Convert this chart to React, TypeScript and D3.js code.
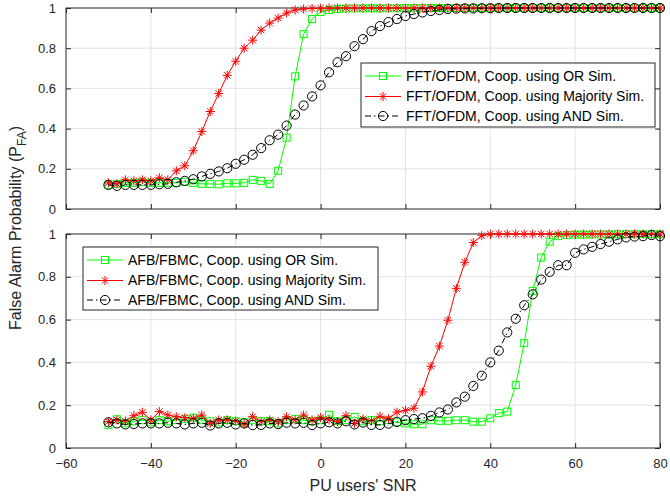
import React, { useEffect, useRef } from 'react';
import * as d3 from 'd3';

// SNR sweep, -50:2:80 dB
const snr = d3.range(-50, 81, 2);

const xTicks = [-60, -40, -20, 0, 20, 40, 60, 80];
const yTicks = [0, 0.2, 0.4, 0.6, 0.8, 1];

// upper panel: FFT/OFDM
const ofdmOr = [
  0.12, 0.125, 0.13, 0.13, 0.135, 0.13, 0.13, 0.13, 0.13, 0.135, 0.13, 0.125, 0.125,
  0.123, 0.128, 0.128, 0.13, 0.145, 0.14, 0.125, 0.19, 0.355, 0.66, 0.87, 0.945, 0.98, 0.99, 0.995,
  0.997, 0.998, 0.998, 0.999, 0.998, 0.999, 0.999, 1, 0.999, 1, 1, 1, 0.999, 1, 1, 1, 1, 1, 1,
  1, 1, 1, 1, 1, 1, 1, 1, 1, 1, 1, 1, 1, 1, 1, 1, 1, 1, 1,
];
const ofdmMaj = [
  0.13, 0.125, 0.145, 0.14, 0.145, 0.14, 0.155, 0.145, 0.19, 0.215, 0.29, 0.385, 0.485,
  0.575, 0.665, 0.735, 0.8, 0.84, 0.89, 0.925, 0.95, 0.975, 0.99, 0.995,
  0.998, 0.999, 0.999, 1, 1, 1, 1, 1, 1, 1, 1, 1, 1, 1, 1, 1, 1, 1, 1, 1, 1,
  1, 1, 1, 1, 1, 1, 1, 1, 1, 1, 1, 1, 1, 1, 1, 1, 1, 1, 1, 1, 1,
];
const ofdmAnd = [
  0.12, 0.115, 0.12, 0.12, 0.12, 0.12, 0.123, 0.125, 0.133, 0.14, 0.148, 0.162, 0.175,
  0.187, 0.203, 0.225, 0.245, 0.27, 0.303, 0.342, 0.37, 0.415, 0.47, 0.515, 0.56, 0.615,
  0.68, 0.73, 0.76, 0.81, 0.845, 0.885, 0.91, 0.93, 0.945, 0.96, 0.97, 0.978, 0.985, 0.99, 0.995,
  0.997, 0.998, 0.998, 0.999, 0.999, 1, 1, 1, 1, 1, 1, 1, 1, 1, 1, 1, 1, 1, 1, 1, 1, 1, 1, 1, 1,
];

// lower panel: AFB/FBMC
const fbmcOr = [
  0.107, 0.134, 0.115, 0.125, 0.13, 0.12, 0.13, 0.125, 0.13, 0.135,
  0.142, 0.13, 0.125, 0.12, 0.13, 0.125, 0.12, 0.13, 0.125, 0.125,
  0.115, 0.13, 0.135, 0.13, 0.125, 0.13, 0.155, 0.125, 0.13, 0.145,
  0.125, 0.13, 0.125, 0.13, 0.12, 0.115, 0.111, 0.111, 0.13, 0.127,
  0.127, 0.13, 0.13, 0.123, 0.123, 0.139, 0.163, 0.17, 0.294, 0.49,
  0.734, 0.89, 0.964, 0.99,
  0.995, 0.997, 0.997, 0.998, 0.998, 0.998, 0.999, 0.999, 0.999, 0.999, 0.999, 0.999,
];
const fbmcMaj = [
  0.123, 0.131, 0.126, 0.151, 0.167, 0.131, 0.17, 0.154, 0.146, 0.142,
  0.139, 0.154, 0.115, 0.131, 0.131, 0.126, 0.111, 0.146, 0.123, 0.131,
  0.123, 0.146, 0.131, 0.154, 0.131, 0.142, 0.131, 0.123, 0.151, 0.115,
  0.136, 0.127, 0.148, 0.137, 0.168, 0.176, 0.186, 0.262, 0.382, 0.476,
  0.597, 0.746, 0.868, 0.96, 0.992,
  1, 1, 1, 1, 1, 1, 1, 1, 1, 1, 1, 1, 1, 1, 1, 1, 1, 1, 1, 1, 1,
];
const fbmcAnd = [
  0.12, 0.115, 0.11, 0.112, 0.115, 0.115, 0.115, 0.118, 0.115, 0.11,
  0.115, 0.118, 0.105, 0.115, 0.118, 0.11, 0.115, 0.107, 0.108, 0.115,
  0.112, 0.118, 0.115, 0.118, 0.107, 0.115, 0.12, 0.115, 0.125, 0.11,
  0.119, 0.108, 0.108, 0.114, 0.122, 0.13, 0.135, 0.139, 0.15, 0.166,
  0.18, 0.213, 0.24, 0.29, 0.338, 0.4, 0.455, 0.54, 0.604, 0.667,
  0.718, 0.787, 0.823, 0.854, 0.854, 0.912, 0.928, 0.94, 0.953, 0.964,
  0.975, 0.984, 0.988, 0.99, 0.995, 0.99,
];

const ofdmLabels = [
  'FFT/OFDM, Coop. using OR Sim.',
  'FFT/OFDM, Coop. using Majority Sim.',
  'FFT/OFDM, Coop. using AND Sim.',
];
const fbmcLabels = [
  'AFB/FBMC, Coop. using OR Sim.',
  'AFB/FBMC, Coop. using Majority Sim.',
  'AFB/FBMC, Coop. using AND Sim.',
];

const FONT = '"Liberation Sans", Arial, Helvetica, sans-serif';
const AXIS = '#262626';
const GRID = '#e3e3e3';

const styles = [
  { color: '#00ff00', marker: 'square', dash: null },
  { color: '#ff0000', marker: 'star', dash: null },
  { color: '#000000', marker: 'circle', dash: '6,3,1.5,3' },
];

const starPath = 'M-4.5,0H4.5M0,-4.5V4.5M-3.2,-3.2L3.2,3.2M-3.2,3.2L3.2,-3.2';

const drawMarker = (sel, kind, color) => {
  if (kind === 'square') {
    sel.append('rect').attr('x', -3.5).attr('y', -3.5).attr('width', 7).attr('height', 7)
      .attr('fill', 'none').attr('stroke', color).attr('stroke-width', 1);
  } else if (kind === 'circle') {
    sel.append('circle').attr('r', 4.6).attr('fill', 'none').attr('stroke', color).attr('stroke-width', 1);
  } else {
    sel.append('path').attr('d', starPath).attr('fill', 'none').attr('stroke', color).attr('stroke-width', 1);
  }
};

const App = () => {
  const svgRef = useRef(null);

  useEffect(() => {
    const svg = d3.select(svgRef.current);
    svg.selectAll('*').remove();

    const xScale = d3.scaleLinear().domain([-60, 80]).range([66, 660]);

    const panels = [
      {
        yScale: d3.scaleLinear().domain([0, 1]).range([209, 8]),
        series: [ofdmOr, ofdmMaj, ofdmAnd],
        labels: ofdmLabels,
        legend: { x: 361, y: 63, w: 294, h: 64 },
        xLabels: false,
      },
      {
        yScale: d3.scaleLinear().domain([0, 1]).range([448, 234]),
        series: [fbmcOr, fbmcMaj, fbmcAnd],
        labels: fbmcLabels,
        legend: { x: 83, y: 247, w: 295, h: 63 },
        xLabels: true,
      },
    ];

    panels.forEach((p) => {
      const { yScale } = p;
      const [x0, x1] = xScale.range();
      const [yb, yt] = yScale.range();
      const g = svg.append('g');

      // 격자
      g.selectAll('.vg').data(xTicks.slice(1, -1)).enter().append('line')
        .attr('x1', d => xScale(d)).attr('x2', d => xScale(d))
        .attr('y1', yt).attr('y2', yb).attr('stroke', GRID);
      g.selectAll('.hg').data(yTicks.slice(1, -1)).enter().append('line')
        .attr('x1', x0).attr('x2', x1)
        .attr('y1', d => yScale(d)).attr('y2', d => yScale(d)).attr('stroke', GRID);

      // 축 (ticks inward on all four sides)
      g.append('g').attr('transform', `translate(0,${yb})`)
        .call(d3.axisBottom(xScale).tickValues(xTicks).tickSize(-5)
          .tickFormat(p.xLabels ? d3.format('d') : () => '').tickPadding(11))
        .call(a => a.select('.domain').remove());
      g.append('g').attr('transform', `translate(0,${yt})`)
        .call(d3.axisTop(xScale).tickValues(xTicks).tickSize(-5).tickFormat(() => ''))
        .call(a => a.select('.domain').remove());
      g.append('g').attr('transform', `translate(${x0},0)`)
        .call(d3.axisLeft(yScale).tickValues(yTicks).tickSize(-5)
          .tickFormat(d => (d === 0 || d === 1 ? String(d) : d3.format('.1f')(d))).tickPadding(10))
        .call(a => a.select('.domain').remove());
      g.append('g').attr('transform', `translate(${x1},0)`)
        .call(d3.axisRight(yScale).tickValues(yTicks).tickSize(-5).tickFormat(() => ''))
        .call(a => a.select('.domain').remove());
      g.selectAll('.tick line').attr('stroke', AXIS);
      g.selectAll('.tick text').attr('fill', AXIS).style('font-family', FONT).style('font-size', '13px');

      g.append('rect').attr('x', x0).attr('y', yt).attr('width', x1 - x0).attr('height', yb - yt)
        .attr('fill', 'none').attr('stroke', AXIS).attr('stroke-width', 1);

      // 곡선 + 마커
      const line = d3.line().x((d, i) => xScale(snr[i])).y(d => yScale(d));
      p.series.forEach((vals, si) => {
        const st = styles[si];
        g.append('path').datum(vals).attr('d', line).attr('fill', 'none')
          .attr('stroke', st.color).attr('stroke-width', 1)
          .attr('stroke-dasharray', st.dash);
        const m = g.selectAll(`.m${si}`).data(vals).enter().append('g')
          .attr('transform', (d, i) => `translate(${xScale(snr[i])},${yScale(d)})`);
        m.each(function () { drawMarker(d3.select(this), st.marker, st.color); });
      });

      // 범례
      const L = p.legend;
      const lg = g.append('g').attr('transform', `translate(${L.x},${L.y})`);
      lg.append('rect').attr('width', L.w).attr('height', L.h)
        .attr('fill', '#fff').attr('stroke', AXIS).attr('stroke-width', 1);
      const rowY = [13, 33.5, 53];
      p.labels.forEach((lab, i) => {
        const st = styles[i];
        const row = lg.append('g').attr('transform', `translate(0,${rowY[i]})`);
        row.append('line').attr('x1', 4).attr('x2', 40).attr('y1', 0).attr('y2', 0)
          .attr('stroke', st.color).attr('stroke-width', 1).attr('stroke-dasharray', st.dash);
        drawMarker(row.append('g').attr('transform', 'translate(22,0)'), st.marker, st.color);
        row.append('text').attr('x', 45).attr('dy', '0.35em').text(lab)
          .style('font-family', FONT).style('font-size', '14px').attr('fill', '#000');
      });
    });

    // 축 제목
    svg.append('text').attr('x', 363).attr('y', 491).attr('text-anchor', 'middle')
      .style('font-family', FONT).style('font-size', '16px').attr('fill', AXIS)
      .text("PU users' SNR");

    const yt = svg.append('text').attr('transform', 'translate(21,228) rotate(-90)')
      .attr('text-anchor', 'middle')
      .style('font-family', FONT).style('font-size', '16px').attr('fill', AXIS);
    yt.append('tspan').text('False Alarm Probability (P');
    yt.append('tspan').attr('dy', 5).style('font-size', '12px').text('FA');
    yt.append('tspan').attr('dy', -5).text(')');
  }, []);

  return (
    <svg ref={svgRef} width={670} height={500}
      style={{ position: 'absolute', left: 0, top: 0, background: '#fff', display: 'block' }} />
  );
};

export default App;
